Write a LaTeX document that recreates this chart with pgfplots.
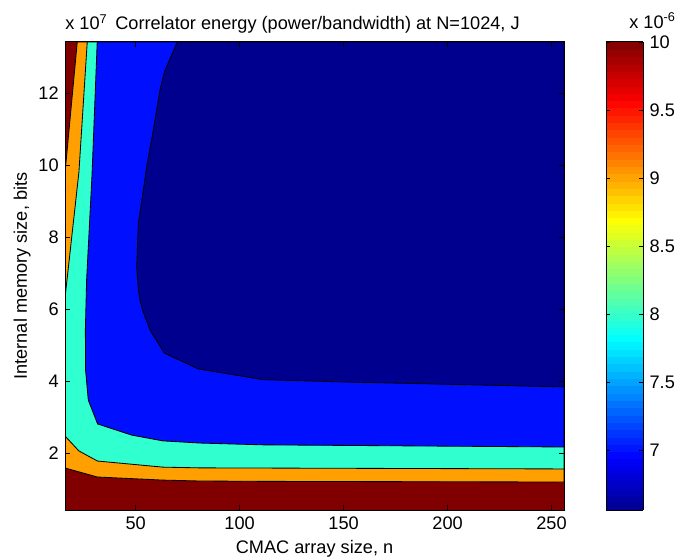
\documentclass[border=0pt]{standalone}
\usepackage{fontspec}
\setmainfont{Liberation Sans}
\usepackage{pgfplots}
\pgfplotsset{compat=1.18}

% MATLAB jet colours of the filled levels (min, 7, 8, 9, 10)
\definecolor{cnavy}{rgb}{0,0,0.5625}
\definecolor{cblue}{rgb}{0,0.0625,1}
\definecolor{caqua}{rgb}{0.1875,1,0.8125}
\definecolor{corange}{rgb}{1,0.625,0}
\definecolor{cdarkred}{rgb}{0.5,0,0}

\begin{document}
\fontsize{10.9}{13}\selectfont
\begin{tikzpicture}
\begin{axis}[
    name=main, at={(0,0)}, anchor=south west,
    scale only axis, width=299.4pt, height=280.8pt,
    xmin=16, xmax=256, ymin=0.4194, ymax=13.4218,
    xtick={50,100,...,250}, ytick={2,4,...,12},
    tick align=inside, major tick length=3pt,
    axis on top,
    axis line style={line width=0.6pt},
    every tick/.style={black, line width=0.5pt},
    /pgf/number format/assume math mode=true,
    xlabel={CMAC array size, n},
    ylabel={Internal memory size, bits},
    xlabel style={at={(axis description cs:0.5,0)}, anchor=base, yshift=-25.8pt},
    ylabel style={at={(axis description cs:-0.0762,0.5)}, anchor=base},
    colormap={mjet}{rgb(0cm)=(0,0,0.5625) rgb(7cm)=(0,0,1) rgb(23cm)=(0,1,1)
        rgb(39cm)=(1,1,0) rgb(55cm)=(1,0,0) rgb(63cm)=(0.5,0,0)},
    point meta min=6.56, point meta max=10,
    colorbar sampled,
    colorbar style={
        at={(parent axis.north east)}, anchor=north west, xshift=16.8pt,
        width=22.2pt, samples=65,
        ytick={7,7.5,...,10},
        tick align=inside, major tick length=2.5pt,
        ytick pos=both, yticklabel pos=right,
        axis line style={line width=0.6pt},
        every tick/.style={black, line width=0.5pt},
        /pgf/number format/assume math mode=true,
    },
]
% background level (>= 10)
\addplot[fill=cdarkred, draw=none] coordinates {
    (16,0.4194) (256,0.4194) (256,13.4218) (16,13.4218) (16,0.4194)};
% 9 .. 10
\addplot[fill=corange, draw=black, line width=0.5pt] coordinates {
    (21.9,13.4218) (16,9.78) (16,1.586) (31.6,1.336) (63.1,1.25) (80.9,1.225)
    (111.2,1.215) (256,1.197) (256,13.4218) (21.9,13.4218)};
% 8 .. 9
\addplot[fill=caqua, draw=black, line width=0.5pt] coordinates {
    (26.7,13.4218) (22.7,9.81) (16,6.31) (16,2.475) (22.7,2.06) (31.6,1.78)
    (63.1,1.61) (80.9,1.59) (256,1.56) (256,13.4218) (26.7,13.4218)};
% 7 .. 8
\addplot[fill=cblue, draw=black, line width=0.5pt] coordinates {
    (31.5,13.4218) (29.0,9.73) (26.4,6.81) (25.8,5.42) (25.9,4.31) (27.2,3.475)
    (31.7,2.81) (48.1,2.50) (63.1,2.34) (80.9,2.28) (111.2,2.23) (256,2.17)
    (256,13.4218) (31.5,13.4218)};
% min .. 7
\addplot[fill=cnavy, draw=black, line width=0.5pt] coordinates {
    (70.0,13.4218) (63.8,12.59) (61.7,12.09) (58.5,10.98) (55.3,9.96) (53.7,9.31)
    (51.3,8.39) (50.5,7.17) (51.3,6.53) (52.1,6.25) (53.3,5.98) (56.9,5.42)
    (63.8,4.78) (80.1,4.34) (111.4,4.04) (148.3,3.98) (256,3.84)
    (256,13.4218) (70.0,13.4218)};
\end{axis}
\node[anchor=base] at ([xshift=1.8pt,yshift=7.4pt]main.north)
    {Correlator energy (power/bandwidth) at N=1024, J};
\node[anchor=base west, inner sep=0pt] at ([yshift=7.4pt]main.north west)
    {x 10\textsuperscript{7}};
\node[anchor=base west, inner sep=0pt] at ([xshift=338.4pt,yshift=8.2pt]main.north west)
    {x 10\textsuperscript{-6}};
\pgfresetboundingbox
\path[use as bounding box] (-39pt,-28.2pt) rectangle (366.6pt,306pt);
\end{tikzpicture}
\end{document}
